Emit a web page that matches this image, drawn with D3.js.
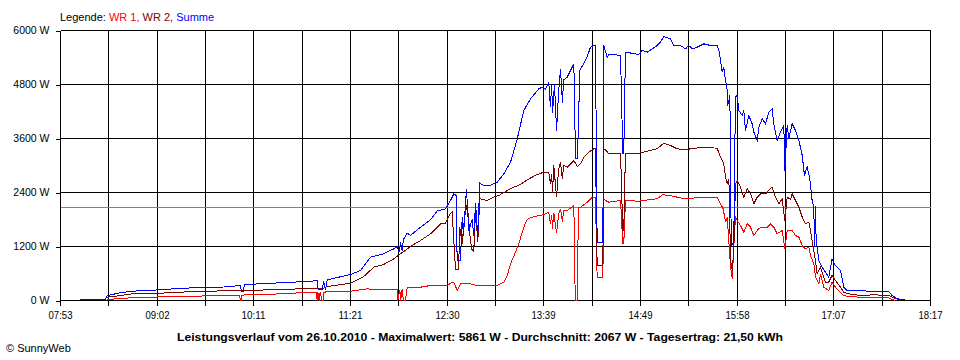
<!DOCTYPE html>
<html>
<head>
<meta charset="utf-8">
<script src="https://cdn.jsdelivr.net/npm/d3@7"></script>
<style>
  html, body { margin: 0; padding: 0; background: #fff; }
  svg { display: block; font-family: "Liberation Sans", Arial, sans-serif; }
</style>
</head>
<body>
<svg id="chart" width="960" height="360"></svg>
<script>
// ---- data (time = minutes after midnight, value = W) ----
const timeStart = 473;   // 07:53
const timeEnd = 1097;    // 18:17
const xTickLabels = ["07:53","09:02","10:11","11:21","12:30","13:39","14:49","15:58","17:07","18:17"];
const yTicks = [0, 1200, 2400, 3600, 4800, 6000];
const average = 2067;
const titleText = "Leistungsverlauf vom 26.10.2010 - Maximalwert: 5861 W - Durchschnitt: 2067 W - Tagesertrag: 21,50 kWh";
const seriesNames = ["WR 1", "WR 2", "Summe"];
const seriesColors = ["#ff0000", "#800000", "#0000ff"];

const wr1 = [[506.5,22],[516.0,44],[523.2,60],[535.2,73],[559.1,89],[590.1,111],[601.5,111],[602.1,0],[602.8,0],[603.2,120],[606.9,127],[633.2,149],[651.1,184],[656.5,184],[657.1,0],[657.6,184],[658.5,0],[659.2,184],[660.5,0],[661.3,0],[661.9,170],[664.3,207],[681.0,207],[693.0,260],[700.2,238],[714.5,238],[714.9,0],[716.4,230],[717.0,0],[718.0,250],[719.0,0],[720.4,0],[721.7,282],[731.2,296],[738.4,333],[750.4,333],[753.9,407],[755.5,380],[757.5,222],[759.9,371],[767.1,371],[771.9,333],[786.2,333],[791.0,407],[793.4,556],[795.8,815],[799.3,1073],[801.7,1260],[805.3,1630],[807.7,1800],[811.3,1852],[819.6,1911],[823.2,1963],[824.4,1700],[825.3,1900],[825.9,1600],[826.8,1950],[828.8,1496],[830.2,1900],[831.6,2038],[833.0,1750],[833.8,2000],[836.4,2000],[841.2,2111],[842.2,0],[843.6,0],[844.5,2073],[846.0,2073],[850.7,2184],[854.3,2296],[856.7,2296],[857.9,519],[862.0,519],[862.7,2260],[863.9,2222],[866.3,2184],[874.7,2222],[876.3,1260],[877.0,1260],[878.2,2222],[887.8,2207],[894.9,2238],[901.0,2260],[904.6,2349],[910.5,2333],[915.3,2296],[921.3,2260],[924.9,2270],[934.4,2296],[944.0,2282],[946.4,2149],[948.3,2038],[950.0,1740],[951.2,1851],[953.6,740],[954.8,482],[955.9,1184],[957.1,1851],[958.4,1778],[960.7,1667],[963.1,1518],[965.5,1704],[967.9,1629],[970.3,1444],[972.7,1556],[975.1,1629],[979.9,1629],[982.2,1704],[984.6,1630],[987.0,1482],[990.6,1556],[992.5,1149],[994.2,1556],[997.8,1556],[1000.2,1444],[1002.6,1407],[1005.0,1222],[1007.3,1149],[1009.7,1184],[1010.9,1000],[1013.3,816],[1014.5,518],[1016.9,371],[1018.1,593],[1020.5,296],[1024.0,222],[1026.4,407],[1028.8,296],[1032.4,184],[1034.8,111],[1038.4,89],[1046.8,73],[1056.3,60],[1067.1,60],[1069.5,22],[1071.9,0]];

const wr2 = [[506.5,73],[516.0,111],[524.4,149],[544.7,162],[568.6,200],[602.1,222],[625.8,238],[645.1,260],[654.5,270],[661.6,267],[664.3,311],[681.0,384],[690.5,533],[697.7,741],[704.7,800],[712.1,926],[716.9,1037],[724.0,1200],[731.2,1333],[738.4,1482],[745.6,1704],[749.1,1720],[752.7,1940],[753.9,1962],[756.3,700],[758.5,682],[759.4,1629],[761.1,1260],[762.8,1851],[764.7,2149],[767.1,1300],[768.3,1111],[769.4,1090],[770.7,2000],[772.3,1296],[773.7,2260],[779.1,2222],[783.8,2296],[787.4,2333],[793.4,2444],[798.1,2518],[802.9,2578],[807.7,2682],[814.9,2800],[819.6,2851],[823.2,2851],[824.4,2600],[825.3,2800],[825.9,2400],[826.8,3000],[828.8,2296],[830.2,2900],[831.6,3073],[833.0,2700],[833.8,3000],[836.4,2962],[841.2,3111],[843.6,2978],[846.0,3038],[848.3,3184],[851.9,3296],[855.5,3371],[856.7,3371],[857.9,778],[862.0,778],[862.7,3371],[863.9,3350],[866.3,3260],[874.7,3260],[876.3,1556],[877.0,1556],[878.2,3273],[887.8,3273],[891.4,3300],[901.0,3371],[905.7,3496],[910.5,3444],[915.3,3371],[921.3,3349],[924.9,3371],[934.4,3407],[944.0,3384],[946.4,3184],[948.7,3038],[950.0,2740],[951.2,2593],[952.4,2704],[953.6,889],[954.8,667],[955.9,1111],[957.1,2593],[958.4,2667],[960.7,2518],[963.1,2296],[965.5,2482],[967.9,2371],[970.3,2149],[972.7,2296],[975.1,2371],[978.7,2371],[981.0,2444],[983.4,2518],[985.8,2296],[988.2,2149],[990.6,2260],[992.5,1778],[994.2,2296],[996.6,2250],[997.8,2371],[1000.2,2222],[1002.6,2073],[1005.0,1851],[1007.3,1704],[1009.7,1740],[1010.9,1556],[1012.8,1184],[1014.5,889],[1015.7,593],[1018.1,740],[1021.7,407],[1024.0,407],[1026.4,556],[1028.8,444],[1032.4,296],[1034.8,184],[1038.4,148],[1046.8,111],[1056.3,127],[1067.1,111],[1069.5,73],[1074.3,22],[1075.5,0]];

const summe = [[487.3,16],[505.3,22],[506.5,111],[516.0,171],[524.4,207],[544.7,238],[560.3,273],[590.1,300],[602.1,333],[602.8,207],[604.3,207],[604.8,350],[606.9,356],[645.1,416],[657.1,438],[657.8,244],[660.9,244],[661.6,438],[663.1,244],[664.3,460],[681.0,578],[688.2,667],[695.3,962],[704.7,1038],[712.1,1149],[714.5,1200],[716.0,1070],[716.9,1300],[718.0,1110],[719.0,1356],[721.7,1496],[724.0,1444],[731.2,1630],[738.4,1793],[743.2,1990],[749.1,2038],[752.7,2222],[755.1,2371],[756.8,2333],[757.5,890],[759.9,890],[761.1,1851],[762.0,1444],[764.2,2482],[765.8,1556],[768.3,1800],[769.4,1444],[770.7,2156],[772.3,1407],[773.7,2607],[776.6,2556],[780.2,2549],[786.2,2629],[791.0,2815],[795.8,3073],[800.6,3593],[805.3,4222],[810.1,4482],[816.1,4704],[818.5,4740],[820.9,4700],[823.2,4851],[824.4,4300],[825.3,4800],[825.9,4156],[827.3,4800],[828.8,3778],[830.2,4600],[831.6,5149],[833.0,4400],[833.8,4900],[836.4,4962],[841.2,5260],[842.4,3149],[843.8,3149],[845.5,5111],[850.7,5407],[853.1,5629],[855.5,5667],[856.7,5667],[857.9,1296],[862.0,1296],[862.7,5667],[865.1,5407],[866.3,5467],[871.1,5460],[874.7,5444],[876.3,3260],[877.0,3260],[878.2,5518],[881.8,5500],[887.8,5467],[890.2,5556],[893.8,5518],[897.4,5593],[901.0,5667],[903.3,5740],[905.7,5861],[910.5,5815],[912.9,5667],[917.7,5667],[921.3,5593],[923.6,5667],[926.1,5593],[929.7,5630],[934.4,5704],[939.2,5667],[944.0,5667],[945.2,5556],[946.4,5333],[947.6,5073],[948.7,5184],[950.0,4889],[951.2,4667],[951.6,4333],[953.1,4556],[954.1,1222],[955.9,1300],[957.1,4518],[958.4,4556],[959.5,4222],[961.9,4111],[963.1,4222],[964.3,3778],[966.7,4111],[969.1,3927],[970.3,3740],[972.7,3556],[973.9,3851],[976.3,4038],[978.7,3927],[981.0,4184],[983.4,4260],[984.6,3927],[987.0,3556],[989.4,3740],[991.8,3889],[992.5,2889],[994.2,3889],[995.4,3600],[997.8,3927],[1000.2,3778],[1002.6,3556],[1005.0,3222],[1006.6,2778],[1008.5,2978],[1010.4,2704],[1012.1,2222],[1013.3,2073],[1013.8,1200],[1014.5,2100],[1015.0,1300],[1015.7,1184],[1016.9,889],[1019.3,740],[1021.7,629],[1024.0,518],[1026.4,927],[1028.8,778],[1032.4,667],[1034.8,296],[1037.2,222],[1044.4,222],[1051.6,210],[1067.1,200],[1069.5,111],[1073.1,38],[1078.4,16]];

// ---- drawing ----
const svg = d3.select("#chart");
const plotLeft = 60.5, plotRight = 930.5, plotTop = 30.5, plotBottom = 300.5;
const x = d3.scaleLinear().domain([timeStart, timeEnd]).range([plotLeft, plotRight]);
const y = d3.scaleLinear().domain([0, 6000]).range([plotBottom, plotTop]);
const snap = v => Math.round(v - 0.5) + 0.5;

const nGrid = 18;
const gridTimes = d3.range(nGrid + 1).map(i => timeStart + i * (timeEnd - timeStart) / nGrid);

// vertical grid lines
svg.append("g").selectAll("line").data(gridTimes).join("line")
  .attr("x1", d => snap(x(d))).attr("x2", d => snap(x(d)))
  .attr("y1", plotTop).attr("y2", plotBottom)
  .attr("stroke", "#000").attr("stroke-width", 1).attr("shape-rendering", "crispEdges");

// horizontal grid lines
svg.append("g").selectAll("line").data(yTicks).join("line")
  .attr("x1", plotLeft).attr("x2", plotRight)
  .attr("y1", d => y(d)).attr("y2", d => y(d))
  .attr("stroke", "#000").attr("stroke-width", 1).attr("shape-rendering", "crispEdges");

// average line
svg.append("line")
  .attr("x1", plotLeft).attr("x2", plotRight)
  .attr("y1", snap(y(average))).attr("y2", snap(y(average)))
  .attr("stroke", "#808080").attr("stroke-width", 1).attr("shape-rendering", "crispEdges");

// axes
const xAxis = d3.axisBottom(x)
  .tickValues(gridTimes)
  .tickSize(5).tickSizeOuter(0).tickPadding(6)
  .tickFormat((d, i) => i % 2 === 0 ? xTickLabels[i / 2] : "");
const gx = svg.append("g").attr("transform", `translate(0,${plotBottom})`).call(xAxis);
gx.select(".domain").remove();
gx.selectAll(".tick").attr("transform", d => `translate(${snap(x(d))},0)`);
gx.selectAll("line").attr("shape-rendering", "crispEdges").attr("stroke", "#000");
gx.selectAll("text").attr("font-size", 11).attr("font-family", "Liberation Sans, Arial, sans-serif").attr("fill", "#000")
  .filter(function() { return this.textContent !== ""; })
  .attr("textLength", 24).attr("lengthAdjust", "spacingAndGlyphs");

const yAxis = d3.axisLeft(y).tickValues(yTicks).tickSize(5).tickSizeOuter(0).tickPadding(6)
  .tickFormat(d => d + " W");
const gy = svg.append("g").attr("transform", `translate(${plotLeft},0)`).call(yAxis);
gy.select(".domain").remove();
gy.selectAll("line").attr("shape-rendering", "crispEdges").attr("stroke", "#000");
gy.selectAll("text").attr("font-size", 10.5).attr("font-family", "Liberation Sans, Arial, sans-serif").attr("fill", "#000");

// series lines
const line = d3.line().x(d => x(d[0])).y(d => y(d[1]));
const allSeries = [wr1, wr2, summe];
svg.append("g").selectAll("path").data(allSeries).join("path")
  .attr("d", d => line(d))
  .attr("fill", "none")
  .attr("stroke", (d, i) => seriesColors[i])
  .attr("stroke-width", 1)
  .attr("shape-rendering", "crispEdges");

// legend
const legend = svg.append("text").attr("x", 60).attr("y", 21)
  .attr("font-size", 11);
legend.append("tspan").attr("fill", "#000").text("Legende: ");
seriesNames.forEach((n, i) => {
  legend.append("tspan").attr("fill", seriesColors[i]).text(n + (i < seriesNames.length - 1 ? ", " : ""));
});

// title
svg.append("text").attr("x", 480).attr("y", 341).attr("text-anchor", "middle")
  .attr("font-size", 11.5).attr("font-weight", "bold").attr("fill", "#000")
  .attr("textLength", 606).attr("lengthAdjust", "spacingAndGlyphs")
  .text(titleText);

// copyright
svg.append("text").attr("x", 6).attr("y", 352).attr("font-size", 11).attr("fill", "#000")
  .text("\u00a9 SunnyWeb");
</script>
</body>
</html>
